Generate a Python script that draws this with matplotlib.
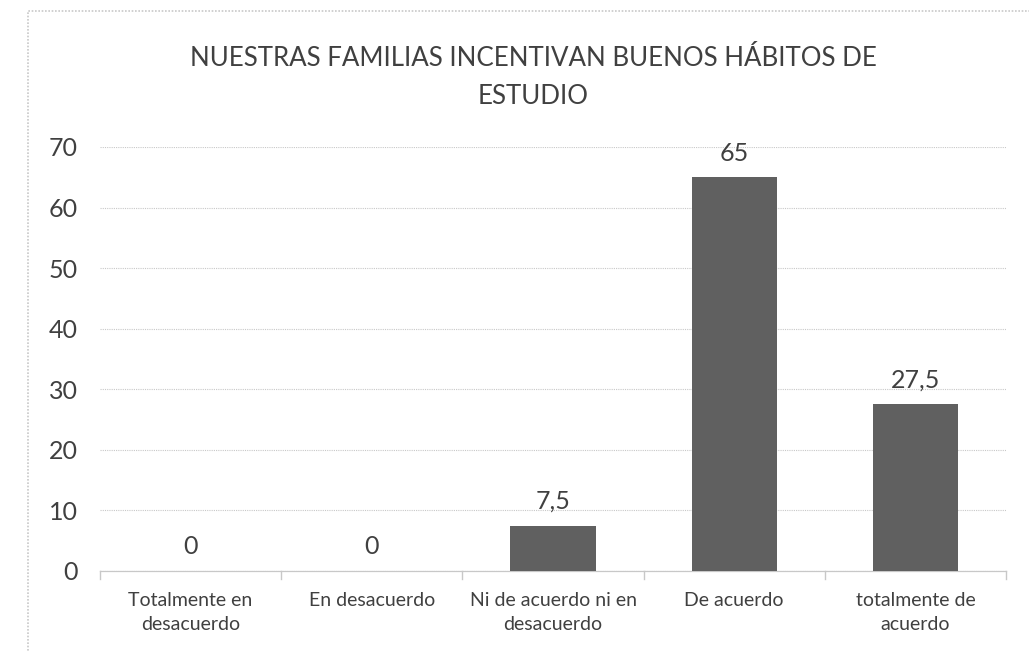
import matplotlib
matplotlib.use("Agg")
import matplotlib.pyplot as plt
from matplotlib.patches import Rectangle

categories = ["Totalmente en\ndesacuerdo", "En desacuerdo", "Ni de acuerdo ni en\ndesacuerdo",
              "De acuerdo", "totalmente de\nacuerdo"]
values = [0, 0, 7.5, 65, 27.5]
value_labels = ["0", "0", "7,5", "65", "27,5"]
yticks = [0, 10, 20, 30, 40, 50, 60, 70]
title = "NUESTRAS FAMILIAS INCENTIVAN BUENOS HÁBITOS DE\nESTUDIO"

plt.rcParams['font.family'] = ['Lato', 'DejaVu Sans']
txt = '#404040'
W, H = 1029, 652
fig = plt.figure(figsize=(W / 100, H / 100), dpi=100)

# chart border (visible top & left)
fig.add_artist(Rectangle((28 / W, -0.1), 1.2, (H - 11) / H + 0.1, transform=fig.transFigure,
                         fill=False, edgecolor='#c8c8c8', linestyle=(0, (1, 1)), linewidth=1.2))

left, right, top, bottom = 100, 1006, 147, 571
ax = fig.add_axes([left / W, 1 - bottom / H, (right - left) / W, (bottom - top) / H])
x = list(range(len(categories)))
ax.bar(x, values, width=0.47, color='#606060', zorder=3)
ax.set_xlim(-0.5, len(categories) - 0.5)
ax.set_ylim(0, 70)
ax.set_yticks(yticks)
ax.set_yticklabels([str(v) for v in yticks], fontsize=18, color=txt)
ax.tick_params(axis='y', length=0, pad=16)
ax.set_xticks(x)
ax.set_xticklabels(categories, fontsize=14, color=txt, linespacing=1.5)
ax.tick_params(axis='x', length=0, pad=15)
# boundary tick marks
for b in [i - 0.5 for i in range(len(categories) + 1)]:
    ax.plot([b, b], [0, -1.3], color='#c8c8c8', lw=1, clip_on=False, zorder=2)
ax.grid(axis='y', color='#c8c8c8', linestyle=(0, (1, 1)), linewidth=0.8, zorder=0)
for s in ['top', 'right', 'left']:
    ax.spines[s].set_visible(False)
ax.spines['bottom'].set_color('#c8c8c8')
ax.spines['bottom'].set_linestyle((0, (1, 1)))
ax.spines['bottom'].set_linewidth(0.9)

for xi, v, lab in zip(x, values, value_labels):
    ax.annotate(lab, (xi, v), xytext=(0, 9), textcoords='offset points',
                ha='center', va='bottom', fontsize=18, color=txt)

fig.text(533 / W, 1 - 78 / H, title, ha='center', va='center', fontsize=18.6, color=txt,
         linespacing=1.65)

fig.savefig("out.png", dpi=100, facecolor='white')
